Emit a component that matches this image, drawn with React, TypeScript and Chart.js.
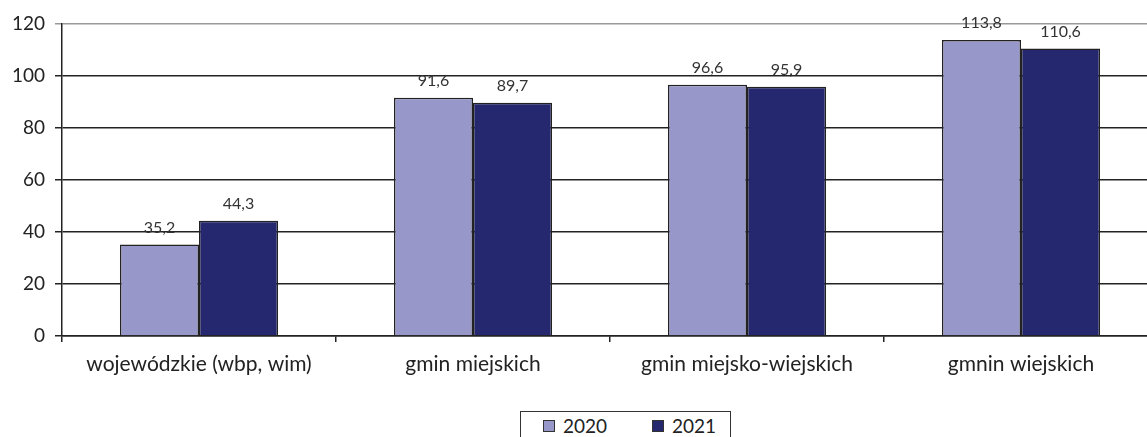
import React, { useEffect, useRef } from "react";
import { Chart, registerables } from "chart.js";

Chart.register(...registerables);

const categories = ["wojewódzkie (wbp, wim)", "gmin miejskich", "gmin miejsko-wiejskich", "gmnin wiejskich"];
const values2020 = [35.2, 91.6, 96.6, 113.8];
const values2021 = [44.3, 89.7, 95.9, 110.6];
const seriesLabels = ["2020", "2021"];
const yTicks = [0, 20, 40, 60, 80, 100, 120];

const COLORS = ["#9797C9", "#25276F"];
const FONT = "Lato, 'Open Sans', sans-serif";

const dataLabelPlugin = {
  id: "dataLabels",
  afterDatasetsDraw(chart: any) {
    const ctx = chart.ctx;
    ctx.save();
    ctx.font = `16px ${FONT}`;
    ctx.fillStyle = "#333";
    ctx.textAlign = "center";
    ctx.textBaseline = "bottom";
    chart.data.datasets.forEach((ds: any, di: number) => {
      const meta = chart.getDatasetMeta(di);
      meta.data.forEach((bar: any, i: number) => {
        const v = ds.data[i];
        ctx.fillText(String(v).replace(".", ","), bar.x, bar.y - 9);
      });
    });
    ctx.restore();
  },
};

export default function App() {
  const ref = useRef<HTMLCanvasElement>(null);
  useEffect(() => {
    if (!ref.current) return;
    const chart = new Chart(ref.current, {
      type: "bar",
      data: {
        labels: categories,
        datasets: [
          { label: seriesLabels[0], data: values2020, backgroundColor: COLORS[0], borderColor: "#222", borderWidth: 1.5 },
          { label: seriesLabels[1], data: values2021, backgroundColor: COLORS[1], borderColor: "#222", borderWidth: 1.5 },
        ],
      },
      options: {
        animation: false,
        responsive: false,
        maintainAspectRatio: false,
        layout: { padding: { top: 24, right: 22, left: 0, bottom: 0 } },
        datasets: { bar: { categoryPercentage: 0.577, barPercentage: 1 } },
        plugins: { legend: { display: false }, tooltip: { enabled: false } },
        scales: {
          x: {
            grid: { drawOnChartArea: false, drawTicks: true, tickLength: 6, color: "#222", lineWidth: 1.5, offset: true },
            border: { display: true, color: "#222", width: 1.5 },
            ticks: { color: "#222", font: { family: FONT, size: 21 }, padding: 10, maxRotation: 0 },
            afterFit: (s: any) => { s.height = 64; },
          },
          y: {
            min: 0,
            max: 120,
            afterBuildTicks: (s: any) => { s.ticks = yTicks.map((v) => ({ value: v })); },
            grid: {
              color: (c: any) => (c.tick && c.tick.value === 120 ? "#999" : "#222"),
              lineWidth: 1.5,
              tickLength: 7,
            },
            border: { display: true, color: "#222", width: 1.5 },
            ticks: { color: "#222", font: { family: FONT, size: 19 }, padding: 10 },
            afterFit: (s: any) => { s.width = 62; },
          },
        },
      },
      plugins: [dataLabelPlugin],
    });
    return () => chart.destroy();
  }, []);

  const marker = (color: string) => (
    <span style={{ display: "inline-block", width: 10, height: 10, background: color, border: "1px solid #333", marginRight: 8, verticalAlign: "middle", position: "relative", top: -2 }} />
  );

  return (
    <div style={{ position: "fixed", left: 0, top: 0, width: 1147, height: 437, overflow: "hidden", background: "#fff" }}>
      <canvas ref={ref} width={1180} height={400} style={{ position: "absolute", left: 0, top: 0, width: 1180, height: 400 }} />
      <div style={{ position: "absolute", left: 520, top: 411, width: 209, height: 40, border: "1px solid #333", fontFamily: FONT, fontSize: 19, color: "#222", boxSizing: "content-box" }}>
        <span style={{ position: "absolute", left: 22, top: 2 }}>{marker(COLORS[0])}{seriesLabels[0]}</span>
        <span style={{ position: "absolute", left: 131, top: 2 }}>{marker(COLORS[1])}{seriesLabels[1]}</span>
      </div>
    </div>
  );
}
